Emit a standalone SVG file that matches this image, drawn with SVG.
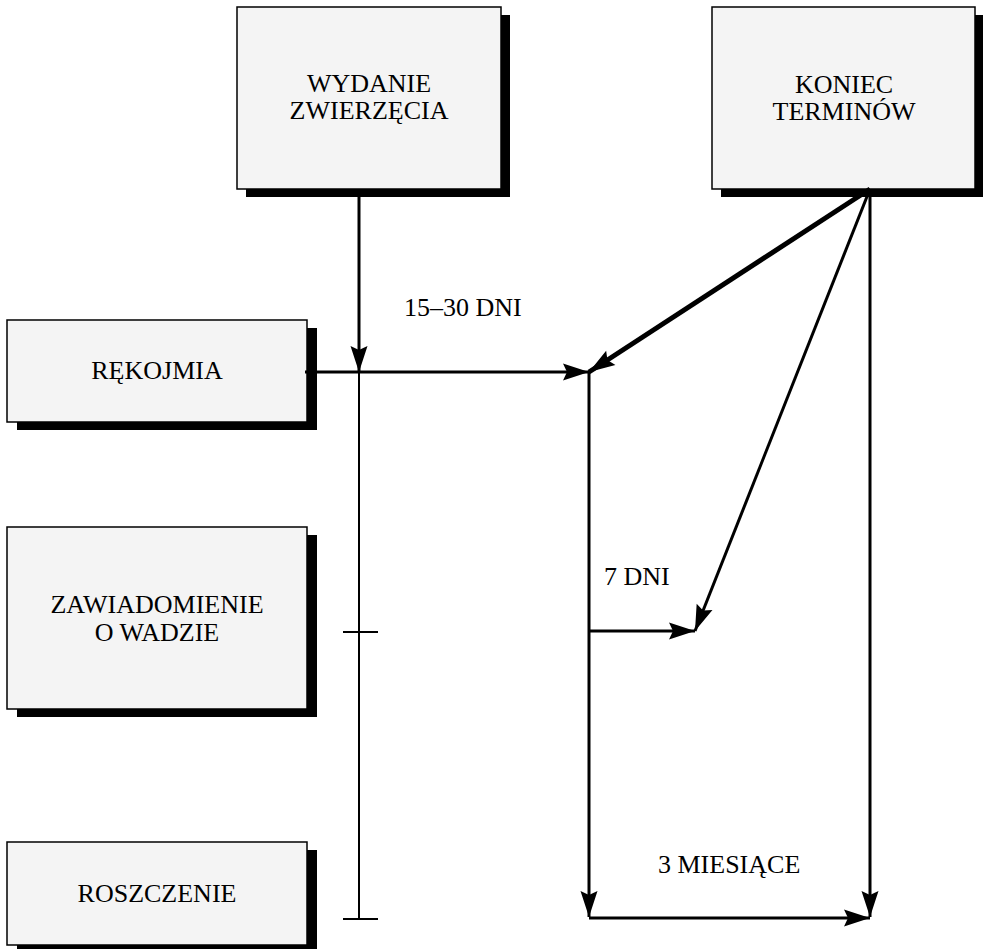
<svg xmlns="http://www.w3.org/2000/svg" width="983" height="949" viewBox="0 0 983 949">
  <style>
    .box { fill: #f4f4f4; stroke: #000; stroke-width: 1.5; }
    .shadow { fill: #000; }
    .lbl { font-family: 'Liberation Serif', 'Times New Roman', 'DejaVu Serif', serif; font-size: 26px; fill: #000; }
    .mid { text-anchor: middle; }
    .ln { stroke: #000; fill: none; }
  </style>
  <defs>
    <marker id="arr" markerUnits="userSpaceOnUse" markerWidth="30" markerHeight="20" viewBox="-27 -10 30 20" refX="0" refY="0" orient="auto">
      <path d="M0,0 L-26,-8.5 L-22,0 L-26,8.5 Z" fill="#000"/>
    </marker>
  </defs>

  <rect width="983" height="949" fill="#fff"/>

  <g id="wydanie">
    <rect class="shadow" x="246" y="15" width="264" height="182"/>
    <rect class="box" x="237" y="7" width="264" height="182"/>
    <text class="lbl mid" x="369" y="92" font-family="Liberation Serif, serif">WYDANIE</text>
    <text class="lbl mid" x="369" y="119" font-family="Liberation Serif, serif">ZWIERZĘCIA</text>
  </g>

  <g id="koniec">
    <rect class="shadow" x="721" y="15" width="263" height="182"/>
    <rect class="box" x="712" y="7" width="263" height="182"/>
    <text class="lbl mid" x="844" y="93">KONIEC</text>
    <text class="lbl mid" x="844" y="120">TERMINÓW</text>
  </g>

  <g id="rekojmia">
    <rect class="shadow" x="17" y="328" width="300" height="102"/>
    <rect class="box" x="7" y="320" width="300" height="102"/>
    <text class="lbl mid" x="157" y="379">RĘKOJMIA</text>
  </g>

  <g id="zawiadomienie">
    <rect class="shadow" x="17" y="535" width="300" height="182"/>
    <rect class="box" x="7" y="527" width="300" height="182"/>
    <text class="lbl mid" x="157" y="613">ZAWIADOMIENIE</text>
    <text class="lbl mid" x="157" y="641">O WADZIE</text>
  </g>

  <g id="roszczenie">
    <rect class="shadow" x="17" y="850" width="300" height="103"/>
    <rect class="box" x="7" y="842" width="300" height="103"/>
    <text class="lbl mid" x="157" y="902">ROSZCZENIE</text>
  </g>

  <g id="connectors">
    <!-- timeline on the left -->
    <line class="ln" x1="359" y1="189" x2="359" y2="372" stroke-width="3" marker-end="url(#arr)"/>
    <line class="ln" x1="359" y1="372" x2="359" y2="919" stroke-width="2"/>
    <line class="ln" x1="343" y1="632" x2="378" y2="632" stroke-width="2"/>
    <line class="ln" x1="343" y1="919" x2="378" y2="919" stroke-width="2"/>
    <line class="ln" x1="305" y1="372" x2="589" y2="372" stroke-width="3" marker-end="url(#arr)"/>

    <!-- fan from the end of terms -->
    <line class="ln" x1="870" y1="189" x2="589" y2="372" stroke-width="5" marker-end="url(#arr)"/>
    <line class="ln" x1="870" y1="189" x2="695" y2="631" stroke-width="3" marker-end="url(#arr)"/>
    <line class="ln" x1="870" y1="189" x2="870" y2="917" stroke-width="3" marker-end="url(#arr)"/>

    <!-- periods -->
    <line class="ln" x1="589" y1="372" x2="589" y2="917" stroke-width="3" marker-end="url(#arr)"/>
    <line class="ln" x1="589" y1="631" x2="695" y2="631" stroke-width="3" marker-end="url(#arr)"/>
    <line class="ln" x1="589" y1="918" x2="870" y2="918" stroke-width="3" marker-end="url(#arr)"/>
  </g>

  <g id="labels">
    <text class="lbl" x="404" y="316">15–30 DNI</text>
    <text class="lbl" x="604" y="585">7 DNI</text>
    <text class="lbl" x="658" y="873">3 MIESIĄCE</text>
  </g>
</svg>
